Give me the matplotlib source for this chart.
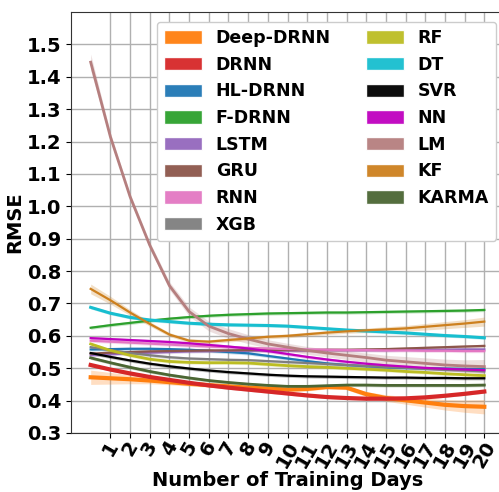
import matplotlib.pyplot as plt
from matplotlib.patches import Patch
import numpy as np

days = list(range(0, 21))

models = ['Deep-DRNN', 'DRNN', 'HL-DRNN', 'F-DRNN', 'LSTM', 'GRU', 'RNN', 'XGB',
          'RF', 'DT', 'SVR', 'NN', 'LM', 'KF', 'KARMA']

deep_drnn = [0.472, 0.469, 0.466, 0.462, 0.457, 0.452, 0.448, 0.444, 0.440, 0.437, 0.434,
             0.436, 0.442, 0.440, 0.420, 0.408, 0.401, 0.394, 0.387, 0.383, 0.381]
drnn = [0.510, 0.496, 0.484, 0.473, 0.464, 0.455, 0.447, 0.440, 0.434, 0.428, 0.422,
        0.416, 0.411, 0.408, 0.406, 0.406, 0.407, 0.410, 0.415, 0.421, 0.428]
hl_drnn = [0.558, 0.559, 0.560, 0.560, 0.559, 0.557, 0.554, 0.550, 0.546, 0.538, 0.530,
           0.522, 0.515, 0.510, 0.506, 0.503, 0.501, 0.500, 0.499, 0.498, 0.497]
f_drnn = [0.625, 0.633, 0.640, 0.647, 0.653, 0.658, 0.662, 0.665, 0.667, 0.669, 0.670,
          0.671, 0.672, 0.672, 0.673, 0.674, 0.675, 0.676, 0.677, 0.678, 0.680]
lstm = [0.540, 0.543, 0.546, 0.548, 0.550, 0.552, 0.553, 0.554, 0.554, 0.555, 0.555,
        0.555, 0.556, 0.556, 0.556, 0.556, 0.557, 0.557, 0.557, 0.558, 0.558]
gru = [0.545, 0.548, 0.550, 0.552, 0.553, 0.554, 0.555, 0.555, 0.556, 0.556, 0.556,
       0.556, 0.557, 0.557, 0.558, 0.559, 0.561, 0.563, 0.565, 0.567, 0.569]
rnn = [0.585, 0.582, 0.579, 0.576, 0.573, 0.570, 0.567, 0.565, 0.563, 0.561, 0.559,
       0.558, 0.557, 0.556, 0.556, 0.555, 0.555, 0.554, 0.554, 0.553, 0.553]
xgb = [0.565, 0.556, 0.547, 0.540, 0.534, 0.530, 0.528, 0.526, 0.525, 0.522, 0.519,
       0.516, 0.513, 0.510, 0.507, 0.504, 0.501, 0.498, 0.495, 0.493, 0.490]
rf = [0.575, 0.555, 0.540, 0.528, 0.521, 0.518, 0.517, 0.517, 0.516, 0.512, 0.508,
      0.505, 0.503, 0.500, 0.497, 0.494, 0.490, 0.487, 0.483, 0.480, 0.477]
dt = [0.688, 0.670, 0.657, 0.649, 0.644, 0.639, 0.636, 0.634, 0.633, 0.632, 0.630,
      0.626, 0.622, 0.618, 0.615, 0.612, 0.609, 0.605, 0.601, 0.598, 0.594]
svr = [0.547, 0.535, 0.524, 0.514, 0.506, 0.499, 0.493, 0.488, 0.484, 0.480, 0.477,
       0.475, 0.474, 0.473, 0.472, 0.471, 0.471, 0.470, 0.470, 0.469, 0.469]
nn = [0.593, 0.590, 0.587, 0.584, 0.581, 0.577, 0.572, 0.567, 0.561, 0.553, 0.544,
      0.535, 0.527, 0.520, 0.514, 0.509, 0.505, 0.501, 0.498, 0.496, 0.494]
lm = [1.445, 1.215, 1.030, 0.880, 0.755, 0.675, 0.630, 0.607, 0.590, 0.575, 0.565,
      0.555, 0.547, 0.540, 0.533, 0.525, 0.520, 0.515, 0.510, 0.507, 0.505]
kf = [0.745, 0.710, 0.672, 0.637, 0.604, 0.585, 0.582, 0.587, 0.592, 0.597, 0.600,
      0.605, 0.610, 0.614, 0.617, 0.620, 0.623, 0.628, 0.633, 0.638, 0.644]
karma = [0.532, 0.517, 0.503, 0.490, 0.479, 0.470, 0.462, 0.456, 0.451, 0.447, 0.444,
         0.444, 0.446, 0.448, 0.448, 0.447, 0.447, 0.447, 0.447, 0.447, 0.448]

# half width of the shaded confidence band
deep_drnn_ci = [0.022, 0.018, 0.014, 0.010, 0.008, 0.007, 0.006, 0.006, 0.006, 0.006, 0.006,
                0.006, 0.006, 0.006, 0.008, 0.010, 0.012, 0.014, 0.016, 0.019, 0.022]
lm_ci = [0.025, 0.012, 0.010, 0.010, 0.012, 0.014, 0.015, 0.015, 0.014, 0.013, 0.012,
         0.012, 0.012, 0.013, 0.014, 0.015, 0.016, 0.017, 0.018, 0.019, 0.022]
kf_ci = [0.015, 0.012, 0.009, 0.007, 0.006, 0.006, 0.006, 0.006, 0.006, 0.006, 0.006,
         0.006, 0.006, 0.006, 0.007, 0.008, 0.009, 0.010, 0.011, 0.012, 0.014]
other_ci = 0.005

series = [deep_drnn, drnn, hl_drnn, f_drnn, lstm, gru, rnn, xgb, rf, dt, svr, nn, lm, kf, karma]
colors = ['tab:orange', 'tab:red', 'tab:blue', 'tab:green', 'tab:purple', 'tab:brown',
          'tab:pink', 'tab:gray', 'tab:olive', 'tab:cyan', 'black', '#bf00bf',
          '#b57f7f', '#cd801e', '#4b6633']
widths = [3, 3, 1.6, 1.6, 1.6, 1.6, 1.6, 1.6, 2, 2.2, 1.6, 1.6, 2, 1.6, 2]
bands = {'Deep-DRNN': deep_drnn_ci, 'LM': lm_ci, 'KF': kf_ci}

plt.rcParams['font.family'] = 'DejaVu Sans'
plt.rcParams['font.weight'] = 'bold'

fig = plt.figure(figsize=(4.99, 4.92), dpi=100)
ax = fig.add_axes([71 / 499, 59 / 492, 433 / 499, 421 / 492])

x = np.array(days)
for name, y, c, w in zip(models, series, colors, widths):
    y = np.array(y)
    ci = np.array(bands.get(name, [other_ci] * len(days)))
    ax.fill_between(x, y - ci, y + ci, color=c, alpha=0.25, lw=0)
    ax.plot(x, y, color=c, lw=w)

ax.set_xlim(-1, 21)
ax.set_ylim(0.3, 1.6)
ax.set_xticks(range(1, 21))
ax.set_xticklabels([str(d) for d in range(1, 21)], rotation=60, ha='center',
                   fontsize=14, fontweight='bold')
ax.tick_params(axis='x', pad=0)
ax.set_yticks(np.arange(0.3, 1.51, 0.1))
ax.set_yticklabels(['%.1f' % v for v in np.arange(0.3, 1.51, 0.1)], fontsize=14,
                   fontweight='bold')
ax.grid(True, color='#b0b0b0', lw=1)
ax.set_axisbelow(True)
for s in ax.spines.values():
    s.set_color('#333333')
ax.set_xlabel('Number of Training Days', fontsize=14, fontweight='bold', labelpad=0)
ax.set_ylabel('RMSE', fontsize=14, fontweight='bold', labelpad=2)

handles = [Patch(facecolor=c, edgecolor='white', alpha=0.95) for c in colors]
ax.legend(handles, models, ncol=2, loc='upper right',
          bbox_to_anchor=(496 / 499, 1 - 22 / 492), bbox_transform=fig.transFigure,
          borderaxespad=0, handlelength=2.2, handleheight=0.8,
          prop={'weight': 'bold', 'size': 12.5}, framealpha=1)

plt.savefig('out.png', dpi=100)
